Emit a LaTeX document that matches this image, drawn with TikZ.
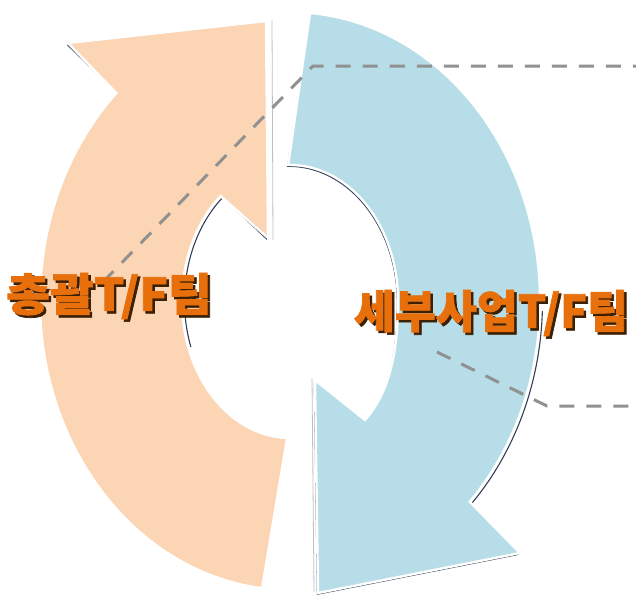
\documentclass[tikz,border=0pt]{standalone}
\usepackage{fontspec}
\usetikzlibrary{calc}
\newfontfamily\krfont{Noto Sans CJK KR}[BoldFeatures={FakeBold=1.6}]
\definecolor{peach}{RGB}{252,213,180}
\definecolor{skyb}{RGB}{183,222,232}
\definecolor{shadowc}{RGB}{50,62,85}
\definecolor{dashc}{RGB}{145,145,145}
\definecolor{txtor}{RGB}{232,112,12}
\definecolor{txtsh}{RGB}{60,32,5}
\tikzset{
  arrowshape/.style={draw=white,line width=2.4pt,line join=miter},
  shadowshape/.style={fill=shadowc},
  edgeline/.style={draw=shadowc,line width=1.1pt},
  leader/.style={draw=dashc,line width=3pt,dash pattern=on 15pt off 12pt},
  lbl/.style={font=\krfont\bfseries\fontsize{45}{45}\selectfont,inner sep=0pt},
}
\begin{document}
\begin{tikzpicture}[x=1pt,y=1pt]
\useasboundingbox (0,0) rectangle (636,-597);
\coordinate (C) at (290,-301);
\def\peachpath{($(C)+(263.6:250 and 289)$) arc[start angle=263.6,end angle=134,x radius=250,y radius=289]
  -- (68,-43) -- (266,-21) -- (268,-238) -- ($(C)+(130:108 and 137)$)
  arc[start angle=130,end angle=268.5,x radius=108,y radius=137] -- cycle}
\def\bluepath{($(C)+(85.4:250 and 289)$) arc[start angle=85.4,end angle=-44,x radius=250,y radius=289]
  -- (520,-553) -- (318,-593) -- (315,-380) -- (365,-420)
  .. controls (390,-392) and (398,-350) .. (398,-301)
  arc[start angle=0,end angle=91,x radius=108,y radius=136] -- cycle}
% shadows
\fill[shadowshape,shift={(-1.2,-1.9)}] \peachpath;
\fill[shadowshape,shift={(-1.2,-1.9)}] \bluepath;
% extra dark edges
\draw[edgeline] ($(C)+(129:105.5 and 134.5)$) arc[start angle=129,end angle=200,x radius=105.5,y radius=134.5];
\draw[edgeline] ($(C)+(-2:252.5 and 291.5)$) arc[start angle=-2,end angle=-44.5,x radius=252.5,y radius=291.5];
\draw[draw=black!25,line width=0.8pt] (272,-20) -- (273,-240);
\draw[draw=black!25,line width=0.8pt] (312,-378) -- (314,-592);
% shapes
\path[arrowshape,fill=peach] \peachpath;
\path[arrowshape,fill=skyb] \bluepath;
% leader lines
\coordinate (d1a) at (103,-282);
\coordinate (d1b) at (313,-66);
\coordinate (d1c) at (636,-66);
\coordinate (d2a) at (437,-352);
\coordinate (d2b) at (547,-406);
\coordinate (d2c) at (636,-406);
\draw[leader] (d1a) -- (d1b) -- (d1c);
\draw[leader] (d2a) -- (d2b) -- (d2c);
% labels
\node[lbl,text=txtsh,xscale=1.06] (t1s) at (111.5,-298.5) {총괄T/F팀};
\node[lbl,text=txtor,xscale=1.06] (t1) at (109,-296) {총괄T/F팀};
\node[lbl,text=txtsh,xscale=0.99] (t2s) at (493.5,-315.5) {세부사업T/F팀};
\node[lbl,text=txtor,xscale=0.99] (t2) at (491,-313) {세부사업T/F팀};
\end{tikzpicture}
\end{document}
